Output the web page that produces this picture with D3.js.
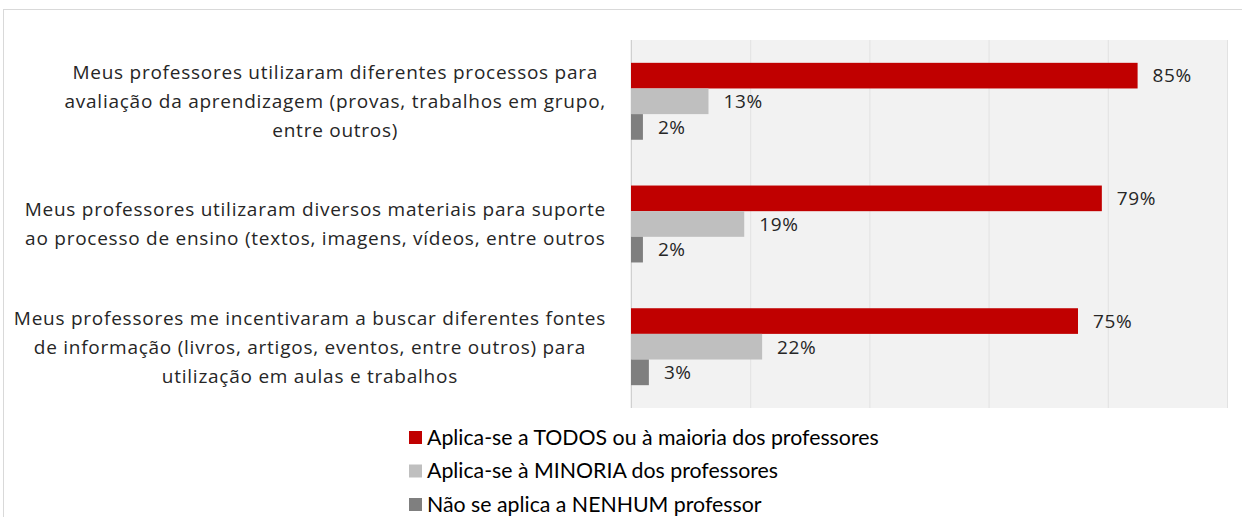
<!DOCTYPE html>
<html>
<head>
<meta charset="utf-8">
<script src="https://cdn.jsdelivr.net/npm/d3@7"></script>
<style>
body { margin: 0; background: #fff; }
svg { display: block; }
</style>
</head>
<body>
<svg id="chart" width="1242" height="517"></svg>
<script>
var categories = [
  ["Meus professores utilizaram diferentes processos para", "avaliação da aprendizagem (provas, trabalhos em grupo,", "entre outros)"],
  ["Meus professores utilizaram diversos materiais para suporte", "ao processo de ensino (textos, imagens, vídeos, entre outros"],
  ["Meus professores me incentivaram a buscar diferentes fontes", "de informação (livros, artigos, eventos, entre outros) para", "utilização em aulas e trabalhos"]
]
var seriesNames = ["Aplica-se a TODOS ou à maioria dos professores", "Aplica-se à MINORIA dos professores", "Não se aplica a NENHUM professor"]
var todos = [85, 79, 75]
var minoria = [13, 19, 22]
var nenhum = [2, 2, 3]
var colors = ["#C00000", "#BFBFBF", "#7F7F7F"]
var ticks = [0, 20, 40, 60, 80, 100]

var margins = {"top": 40, "left": 631, "bottom": 109, "right": 15}
var width = 1242 - margins.left - margins.right
var height = 517 - margins.top - margins.bottom

var svg = d3.select("#chart")

// outer chart border
svg.append("rect")
.attr("x", 3.5).attr("y", 9.5)
.attr("width", 1250).attr("height", 520)
.attr("fill", "none").attr("stroke", "#D9D9D9")

var g = svg.append("g").attr("transform", "translate(" + margins.left + "," + margins.top + ")")

var x = d3.scaleLinear().domain([0, 100]).range([0, width])
var y = d3.scaleBand().domain(d3.range(categories.length)).range([0, height]).paddingInner(0.373).paddingOuter(0.186)
var ySub = d3.scaleBand().domain(d3.range(seriesNames.length)).range([0, y.bandwidth()])

g.append("rect").attr("x", -1).attr("width", width + 1).attr("height", height).attr("fill", "#F2F2F2")

g.selectAll(".grid")
.data(ticks)
.enter().append("line")
.attr("class", "grid")
.attr("x1", d => x(d) + 0.5).attr("x2", d => x(d) + 0.5)
.attr("y1", 0).attr("y2", height)
.attr("stroke", (d, i) => i == 0 ? "#D0D0D0" : "#E2E2E2")
.attr("stroke-width", 1)

var rows = []
categories.forEach(function(c, i) {
  [todos, minoria, nenhum].forEach(function(s, j) {
    rows.push({cat: i, ser: j, value: s[i]})
  })
})

g.selectAll(".bar")
.data(rows)
.enter().append("rect")
.attr("class", "bar")
.attr("x", 0)
.attr("y", d => y(d.cat) + ySub(d.ser))
.attr("width", d => x(d.value))
.attr("height", ySub.bandwidth())
.attr("fill", d => colors[d.ser])

g.selectAll(".val")
.data(rows)
.enter().append("text")
.attr("class", "val")
.attr("x", d => x(d.value) + 15)
.attr("y", d => y(d.cat) + ySub(d.ser) + ySub.bandwidth() / 2)
.attr("dy", "0.36em")
.attr("font-family", "Open Sans")
.attr("font-size", 19)
.attr("letter-spacing", 0.6)
.attr("fill", "#262626")
.text(d => d.value + "%")

// category labels: lines centred inside a block that is right aligned
var labelRight = 606
var lab = svg.append("g")
categories.forEach(function(lines, i) {
  var cy = margins.top + y(i) + y.bandwidth() / 2
  var lh = 29
  var t = lab.append("text")
  .attr("text-anchor", "middle")
  .attr("font-family", "Open Sans")
  .attr("font-size", 19)
  .attr("letter-spacing", 0.75)
  .attr("fill", "#262626")
  var spans = lines.map(function(l, k) {
    return t.append("tspan")
    .attr("y", cy + (k - (lines.length - 1) / 2) * lh)
    .attr("dy", "0.36em")
    .text(l)
  })
  var maxW = d3.max(spans, s => s.node().getComputedTextLength())
  spans.forEach(s => s.attr("x", labelRight - maxW / 2))
})

// legend
var legend = svg.selectAll(".leg")
.data(seriesNames)
.enter().append("g")
.attr("class", "leg")
.attr("transform", (d, i) => "translate(409," + (437 + i * 33.5) + ")")

legend.append("rect")
.attr("x", 0).attr("y", -6)
.attr("width", 13).attr("height", 13)
.attr("fill", (d, i) => colors[i])

legend.append("text")
.attr("x", 18)
.attr("dy", "0.36em")
.attr("font-family", "Lato")
.attr("font-size", 21.3)
.attr("fill", "#000")
.text(d => d)
</script>
</body>
</html>
